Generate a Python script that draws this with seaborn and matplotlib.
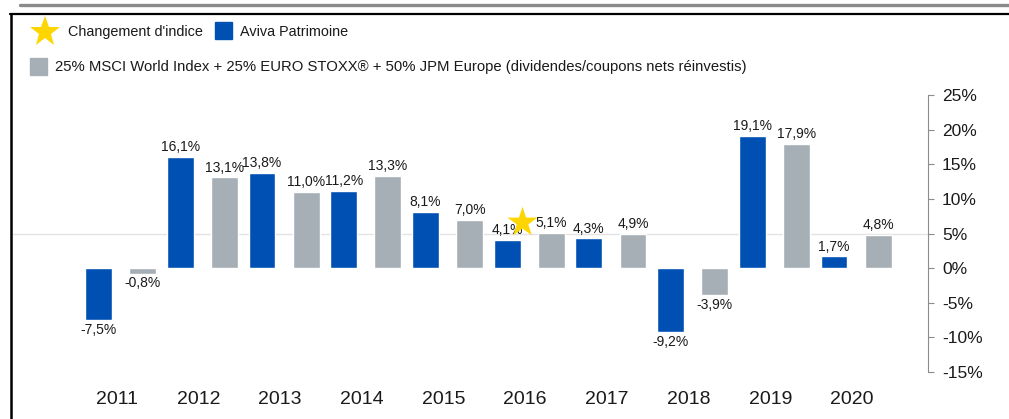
import numpy as np
import pandas as pd
import matplotlib
matplotlib.use('Agg')
import matplotlib.pyplot as plt
import seaborn as sns
from matplotlib.lines import Line2D
from matplotlib.patches import Rectangle

annees = ['2011', '2012', '2013', '2014', '2015', '2016', '2017', '2018', '2019', '2020']
aviva = [-7.5, 16.1, 13.8, 11.2, 8.1, 4.1, 4.3, -9.2, 19.1, 1.7]
indice = [-0.8, 13.1, 11.0, 13.3, 7.0, 5.1, 4.9, -3.9, 17.9, 4.8]
series = ['Aviva Patrimoine',
          '25% MSCI World Index + 25% EURO STOXX® + 50% JPM Europe (dividendes/coupons nets réinvestis)']
star_annee = '2016'
star_valeur = 6.6
yticks = [-15, -10, -5, 0, 5, 10, 15, 20, 25]

BLEU = '#0050B4'
GRIS = '#A6AFB5'
JAUNE = '#FFD500'

sns.set_style('white')
plt.rcParams['font.family'] = ['Liberation Sans', 'DejaVu Sans']

df = pd.DataFrame({
    'annee': annees * 2,
    'valeur': aviva + indice,
    'serie': [series[0]] * len(annees) + [series[1]] * len(annees),
})

fig = plt.figure(figsize=(10.09, 4.19), dpi=100)
W, H = 1009, 419
ax = fig.add_axes([12 / W, 1 - 372 / H, (928 - 12) / W, (372 - 95) / H])

sns.barplot(data=df, x='annee', y='valeur', hue='serie', hue_order=series,
            palette=[BLEU, GRIS], width=1.08, gap=0.39, saturation=1,
            legend=False, ax=ax, zorder=2)

for cont in ax.containers:
    ax.bar_label(cont, fmt=lambda v: f"{v:.1f}%".replace('.', ','),
                 padding=2, fontsize=10, color='#1a1a1a')

ax.axhline(5, color='#e3e3e3', lw=1, zorder=1)

# étoile changement d'indice
ax.scatter([annees.index(star_annee) - 0.09], [star_valeur], marker='*', s=520,
           color=JAUNE, zorder=5, linewidths=0)

ax.set_xlim(-1.33, 9.88)
ax.set_ylim(-15, 25)
ax.set_yticks(yticks)
ax.set_yticklabels([f"{t}%" for t in yticks])
ax.yaxis.tick_right()
ax.set_xticks(np.arange(len(annees)) - 0.05)
ax.set_xticklabels(annees)
ax.set_xlabel('')
ax.set_ylabel('')

for s in ['top', 'left', 'bottom']:
    ax.spines[s].set_visible(False)
ax.spines['right'].set_color('#8c8c8c')
ax.tick_params(axis='y', which='both', right=True, left=False, direction='out',
               length=4, color='#8c8c8c', labelsize=12.5, labelcolor='#1a1a1a', pad=6)
ax.tick_params(axis='x', length=0, labelsize=14, pad=14, labelcolor='#1a1a1a')

# cadre
fig.add_artist(Line2D([20 / W, 1], [1 - 5 / H, 1 - 5 / H], color='#8a8a8a', lw=2.4))
fig.add_artist(Line2D([9.5 / W, 1], [1 - 14 / H, 1 - 14 / H], color='black', lw=1.6))
fig.add_artist(Line2D([10.5 / W, 10.5 / W], [0, 1 - 14 / H], color='black', lw=1.8))

# légende
fig.add_artist(Line2D([45 / W], [1 - 32 / H], marker='*', markersize=23,
                      color=JAUNE, markeredgewidth=0, linestyle='none'))
fig.text(68 / W, 1 - 32 / H, "Changement d'indice", fontsize=10.4, va='center', color='#1a1a1a')
fig.add_artist(Rectangle((215 / W, 1 - 39 / H), 17 / W, 17 / H, color=BLEU,
                         transform=fig.transFigure))
fig.text(240 / W, 1 - 32 / H, series[0], fontsize=10.4, va='center', color='#1a1a1a')
fig.add_artist(Rectangle((30 / W, 1 - 75 / H), 17 / W, 17 / H, color=GRIS,
                         transform=fig.transFigure))
fig.text(55 / W, 1 - 67 / H, series[1], fontsize=10.7, va='center', color='#1a1a1a')

fig.savefig('out.png', dpi=100)
